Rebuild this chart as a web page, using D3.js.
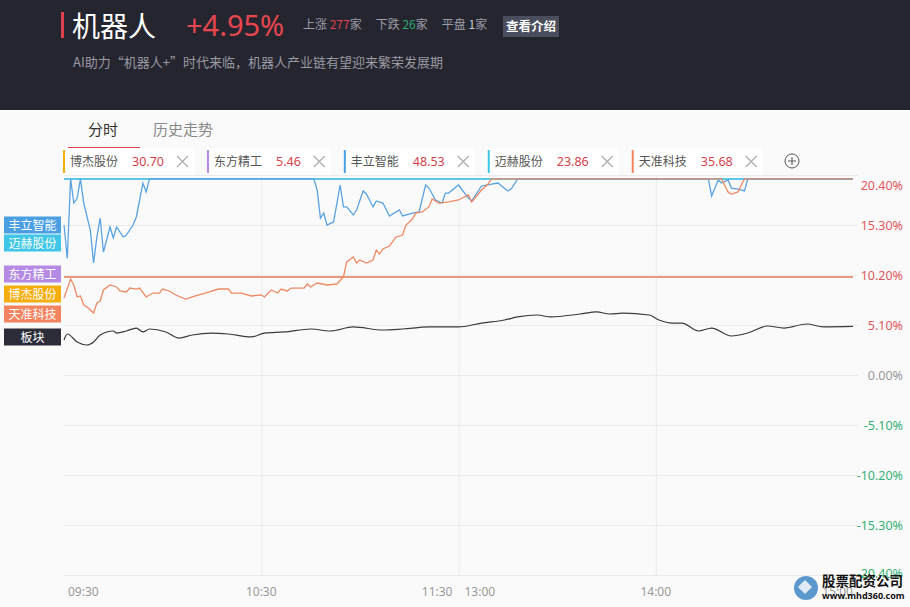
<!DOCTYPE html>
<html><head><meta charset="utf-8">
<script src="https://cdn.jsdelivr.net/npm/d3@7"></script>
<style>
body{margin:0;background:#fafafa;font-family:"Noto Sans CJK SC","Noto Sans",sans-serif;}
svg{display:block}
</style></head><body><svg id="c" width="910" height="607"></svg>
<script>
const stockNames = ["博杰股份","东方精工","丰立智能","迈赫股份","天准科技"];
const stockPrices = ["30.70","5.46","48.53","23.86","35.68"];
const yTicks = [20.4,15.3,10.2,5.1,0,-5.1,-10.2,-15.3,-20.4];
const xTicks = ["09:30","10:30","11:30","13:00","14:00","15:00"];
const tabs = ["分时","历史走势"];
const boardValues = [["09:30",3.57],["09:31",4.18],["09:34",3.37],["09:37",3.06],["09:39",3.37],["09:41",4.08],["09:45",4.49],["09:46",4.28],["09:49",4.49],["09:52",4.79],["09:54",4.39],["09:56",4.69],["10:01",4.39],["10:05",3.77],["10:09",4.08],["10:15",4.28],["10:20",4.18],["10:27",3.88],["10:31",4.28],["10:37",4.39],["10:45",4.69],["10:51",4.49],["10:58",4.90],["11:07",4.59],["11:13",4.69],["11:21",4.90],["11:30",4.90],["13:07",5.30],["13:14",5.61],["13:18",5.92],["13:24",6.12],["13:28",5.92],["13:37",6.22],["13:42",6.43],["13:46",6.22],["13:50",6.32],["13:58",6.12],["14:01",5.61],["14:05",5.30],["14:08",5.30],["14:13",4.49],["14:17",4.79],["14:23",3.98],["14:28",4.28],["14:34",5.00],["14:39",4.79],["14:46",5.20],["14:51",4.90],["15:00",4.95]];
const bojieValues = [["09:30",10.0],["15:00",10.0]];
const dongfangValues = [["09:30",10.0],["15:00",10.0]];
const maiheValues = [["09:30",20.0],["15:00",20.0]];
const fengliValues = [["09:30",15.3],["09:31",11.9],["09:32",20.0],["09:33",17.54],["09:34",18.05],["09:35",20.0],["09:36",17.54],["09:38",14.79],["09:39",11.42],["09:40",14.08],["09:41",16.01],["09:42",12.55],["09:44",15.10],["09:45",13.97],["09:46",15.10],["09:48",14.08],["09:49",14.28],["09:51",15.30],["09:52",16.12],["09:54",19.58],["09:55",18.67],["09:56",20.0],["10:46",20.0],["10:47",18.87],["10:48",16.01],["10:49",16.52],["10:50",15.30],["10:52",15.61],["10:54",19.38],["10:55",17.14],["10:56",17.14],["10:58",16.32],["10:59",16.83],["11:01",18.77],["11:02",18.46],["11:04",17.14],["11:05",17.75],["11:07",17.54],["11:09",16.22],["11:12",16.83],["11:13",16.22],["11:16",16.52],["11:18",16.63],["11:20",19.38],["11:21",19.07],["11:23",17.85],["11:25",17.54],["11:26",18.56],["11:27",18.56],["11:30",19.38],["13:03",18.05],["13:04",17.75],["13:07",19.28],["13:12",19.58],["13:15",18.77],["13:16",18.97],["13:18",20.0],["14:16",20.0],["14:17",18.26],["14:19",19.89],["14:20",19.58],["14:22",19.89],["14:23",19.07],["14:25",18.97],["14:27",18.77],["14:28",20.0],["15:00",20.0]];
const tianzhunValues = [["09:30",7.85],["09:32",9.79],["09:33",9.18],["09:34",7.96],["09:35",8.06],["09:36",7.14],["09:37",6.94],["09:39",6.32],["09:40",7.34],["09:41",7.55],["09:42",8.67],["09:44",9.18],["09:46",8.98],["09:47",8.57],["09:49",8.47],["09:50",8.87],["09:52",8.77],["09:53",8.87],["09:55",7.96],["09:57",8.36],["09:59",8.36],["10:00",8.77],["10:02",8.57],["10:04",8.16],["10:07",7.75],["10:10",8.06],["10:13",8.36],["10:17",8.77],["10:20",8.77],["10:21",8.36],["10:24",8.36],["10:27",8.06],["10:30",8.16],["10:31",7.96],["10:33",8.67],["10:35",8.36],["10:36",8.77],["10:38",8.57],["10:39",8.87],["10:43",8.87],["10:44",9.28],["10:45",8.98],["10:47",9.38],["10:50",9.18],["10:53",9.28],["10:55",10.0],["10:56",11.53],["10:58",12.04],["10:59",11.42],["11:00",11.73],["11:02",11.42],["11:04",11.73],["11:05",12.75],["11:06",12.34],["11:07",12.85],["11:09",13.16],["11:11",14.08],["11:13",14.28],["11:14",15.30],["11:16",15.91],["11:17",16.52],["11:19",16.63],["11:21",17.14],["11:22",17.95],["11:24",17.54],["11:27",17.65],["11:30",17.85],["13:03",18.36],["13:04",17.65],["13:07",18.87],["13:09",19.48],["13:10",20.0],["14:20",20.0],["14:22",18.67],["14:23",18.46],["14:25",18.67],["14:26",19.38],["14:27",20.0],["15:00",20.0]];

// styles / layout
const tagColors = ["#f5ad0c","#b58ae4","#4a9fe3","#3dc6e5","#f4845f"];
const lineColors = ["#f5ad0c","#ea9a80","#5aa3e0","#5ec6e8","#ed8a63"];
const seriesData = [bojieValues,dongfangValues,fengliValues,maiheValues,tianzhunValues];
const drawOrder = [0,1,3,2,4];
const leftTags = [{name:"丰立智能",c:2,y:225},{name:"迈赫股份",c:3,y:243},{name:"东方精工",c:1,y:274},{name:"博杰股份",c:0,y:294},{name:"天准科技",c:4,y:314},{name:"板块",c:-1,y:337}];

function tmin(s){const [h,m]=s.split(":").map(Number);const t=h*60+m;return t<=690? t-570 : t-780+120;}

const svg = d3.select("#c");
const L=64,R=853,T=175,B=575;
const x = d3.scaleLinear().domain([0,240]).range([L,R]);
const y = d3.scaleLinear().domain([-20.4,20.4]).range([B,T]);

// header
svg.append("rect").attr("x",0).attr("y",0).attr("width",910).attr("height",110).attr("fill","#252530");
svg.append("rect").attr("x",61).attr("y",12).attr("width",3).attr("height",26).attr("fill","#e0424d");
svg.append("text").attr("x",72).attr("y",37).attr("fill","#fff").attr("font-size",28).text("机器人");
svg.append("text").attr("x",186).attr("y",36).attr("fill","#e8464e").attr("font-size",29).attr("font-family","Noto Sans, sans-serif").text("+4.95%");
const stat = svg.append("text").attr("x",303).attr("y",29).attr("font-size",12).attr("fill","#9c9ca6");
stat.append("tspan").text("上涨 ");
stat.append("tspan").attr("fill","#e0424d").text("277");
stat.append("tspan").text("家");
stat.append("tspan").attr("dx",14).text("下跌 ");
stat.append("tspan").attr("fill","#2eaa6c").text("26");
stat.append("tspan").text("家");
stat.append("tspan").attr("dx",14).text("平盘 ");
stat.append("tspan").attr("fill","#c8c8d0").text("1");
stat.append("tspan").text("家");
svg.append("rect").attr("x",503).attr("y",16).attr("width",56).attr("height",21).attr("fill","#4a4d5b");
svg.append("text").attr("x",531).attr("y",31).attr("text-anchor","middle").attr("fill","#fff").attr("font-size",12.5).attr("font-weight","bold").text("查看介绍");
svg.append("text").attr("x",73).attr("y",67).attr("fill","#9a9aa2").attr("font-size",13).text("AI助力“机器人+”时代来临，机器人产业链有望迎来繁荣发展期");

// tabs
svg.append("text").attr("x",88).attr("y",135).attr("fill","#333").attr("font-size",15).text(tabs[0]);
svg.append("text").attr("x",153).attr("y",135).attr("fill","#888").attr("font-size",15).text(tabs[1]);
svg.append("rect").attr("x",68).attr("y",147).attr("width",72).attr("height",2).attr("fill","#d9414b");

// grid
const gGrid = svg.append("g").attr("transform",`translate(${L},0)`)
  .call(d3.axisLeft(y).tickValues(yTicks).tickSize(-(858-L)).tickFormat(""));
gGrid.select(".domain").remove();
gGrid.selectAll("line").attr("stroke","#ebebeb");
const gVGrid = svg.append("g").attr("transform",`translate(0,${B})`)
  .call(d3.axisBottom(x).tickValues([60,120,180]).tickSize(-(B-T)).tickFormat(""));
gVGrid.select(".domain").remove();
gVGrid.selectAll("line").attr("stroke","#ececec");

// y labels
const gY = svg.append("g").attr("transform","translate(903,0)")
  .call(d3.axisRight(y).tickValues(yTicks).tickSize(0).tickFormat(d=>d.toFixed(2)+"%"));
gY.select(".domain").remove();
gY.selectAll("text").attr("x",0).attr("text-anchor","end").attr("font-size",12.5)
  .attr("font-family","Noto Sans, sans-serif")
  .attr("fill",d=>d>0?"#e0585c":(d<0?"#35b077":"#999"))
  .attr("dy",d=>d===20.4?"1.15em":(d===-20.4?"0.2em":"0.32em"));

// x labels
svg.append("g").selectAll("text").data(xTicks).join("text")
  .attr("x",(d,i)=>x(tmin(d))+(i===0?4:i===2?-6:i===3?6:0))
  .attr("y",596).attr("font-size",12).attr("fill","#999").attr("font-family","Noto Sans, sans-serif")
  .attr("text-anchor",(d,i)=>i===0||i===3?"start":(i===2||i===5?"end":"middle"))
  .text(d=>d);

// lines
const line = d3.line().x(d=>x(tmin(d[0]))).y(d=>y(d[1]));
const gl = svg.append("g");
drawOrder.forEach(i=>{
  gl.append("path").datum(seriesData[i]).attr("d",line).attr("fill","none")
    .attr("stroke",lineColors[i]).attr("stroke-width",(i===1||i===3)?2:1.3);
});
gl.append("path").datum(boardValues).attr("d",d3.line().x(d=>x(tmin(d[0]))).y(d=>y(d[1])).curve(d3.curveMonotoneX))
  .attr("fill","none").attr("stroke","#3a3a3f").attr("stroke-width",1.2);

// legend chips
let cx = 63;
stockNames.forEach((n,i)=>{
  const g = svg.append("g");
  const box = g.append("rect").attr("x",cx).attr("y",148).attr("height",27).attr("fill","#fff");
  g.append("rect").attr("x",cx).attr("y",150).attr("width",2).attr("height",23).attr("fill",tagColors[i]);
  const t1 = g.append("text").attr("x",cx+7).attr("y",166).attr("font-size",12).attr("fill","#555").text(n);
  const w1 = t1.node().getComputedTextLength();
  const px = cx+7+w1+14;
  const t2 = g.append("text").attr("x",px).attr("y",166).attr("font-size",12.5).attr("fill","#d3424a").attr("font-family","Noto Sans, sans-serif").text(stockPrices[i]);
  const w2 = t2.node().getComputedTextLength();
  const xx = px+w2+13;
  g.append("path").attr("d",`M${xx},${156}L${xx+11},${167}M${xx+11},${156}L${xx},${167}`).attr("stroke","#aaa").attr("stroke-width",1.1);
  const end = xx+11+6;
  box.attr("width",end-cx);
  cx = end+13;
});
svg.append("circle").attr("cx",792).attr("cy",161).attr("r",7).attr("fill","none").attr("stroke","#555").attr("stroke-width",1);
svg.append("path").attr("d","M788,161L796,161M792,157L792,165").attr("stroke","#555").attr("stroke-width",1);

// left tags
leftTags.forEach(t=>{
  svg.append("rect").attr("x",4).attr("y",t.y-8.5).attr("width",57).attr("height",17).attr("fill",t.c<0?"#2b2c38":tagColors[t.c]);
  svg.append("text").attr("x",32.5).attr("y",t.y+4.5).attr("text-anchor","middle").attr("fill","#fff").attr("font-size",12).text(t.name);
});

// watermark
const wm = svg.append("g");
wm.append("circle").attr("cx",806).attr("cy",588).attr("r",12).attr("fill","#3e86c4").attr("opacity",0.85);
wm.append("rect").attr("x",800).attr("y",582).attr("width",10).attr("height",10).attr("transform","rotate(45 805 587)").attr("fill","#dfeaf5");
wm.append("text").attr("x",822).attr("y",586).attr("font-size",13.5).attr("font-weight","bold").attr("fill","#111").text("股票配资公司");
wm.append("text").attr("x",822).attr("y",599).attr("font-size",9).attr("font-weight","bold").attr("fill","#111").attr("font-family","Noto Sans, sans-serif").text("www.mhd360.com");
</script></body></html>
